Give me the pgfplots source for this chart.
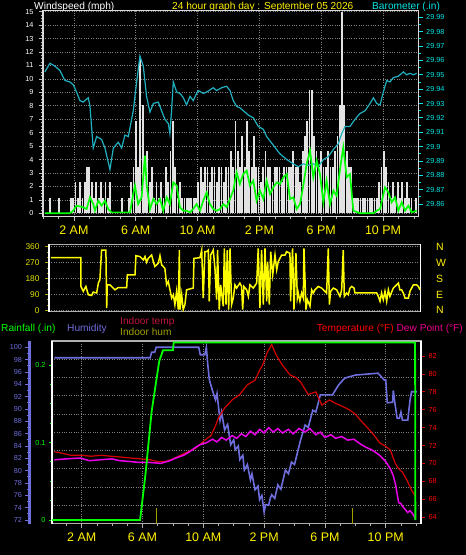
\documentclass[border=0pt]{standalone}
\usepackage{pgfplots}
\pgfplotsset{compat=1.18}
\usepackage{fontspec}
\setmainfont{Liberation Sans}
\definecolor{baro}{RGB}{32,176,192}
\definecolor{barolab}{RGB}{0,230,230}
\definecolor{lime}{RGB}{0,255,0}
\definecolor{gust}{RGB}{226,226,226}
\definecolor{yel}{RGB}{255,255,0}
\definecolor{yellab}{RGB}{225,225,0}
\definecolor{hum}{RGB}{110,110,220}
\definecolor{temp}{RGB}{215,0,0}
\definecolor{dew}{RGB}{235,0,235}
\definecolor{intemp}{RGB}{190,20,60}
\definecolor{inhum}{RGB}{160,160,0}
\definecolor{gridc}{RGB}{130,130,130}
\definecolor{framec}{RGB}{175,175,175}
\newcommand\hdr{\fontsize{10.2}{12}\selectfont}
\newcommand\tkl{\fontsize{7.3}{8}\selectfont}
\newcommand\xl{\fontsize{12.5}{14}\selectfont}
\pgfplotsset{
  base/.style={scale only axis, anchor=north west, /pgf/number format/assume math mode=true,
    tick align=outside, major tick length=4bp, minor tick length=2bp, clip=true},
  toppanel/.style={base, at={(43bp,-10.7bp)}, width=375.7bp, height=206bp, xmin=0, xmax=24.31},
  botpanel/.style={base, at={(52bp,-341bp)}, width=369bp, height=182.5bp, xmin=0.046, xmax=24.32},
}
\begin{document}
\begin{tikzpicture}
\path[use as bounding box] (0,0) rectangle (466bp,-555bp);
\fill[black] (0,0) rectangle (466bp,-555bp);

% ---------- headers ----------
\node[anchor=base west, inner sep=0, font=\hdr, white] at (34bp,-9.5bp) {Windspeed (mph)};
\node[anchor=base west, inner sep=0, font=\hdr, yellow] at (172bp,-9.5bp) {24 hour graph day : September 05 2026};
\node[anchor=base west, inner sep=0, font=\hdr, barolab] at (372bp,-9.5bp) {Barometer (.in)};
\node[anchor=base west, inner sep=0, font=\hdr, lime] at (1bp,-331.5bp) {Rainfall (.in)};
\node[anchor=base west, inner sep=0, font=\hdr, hum] at (67bp,-331.5bp) {Humidity};
\node[anchor=base west, inner sep=0, font=\hdr, intemp] at (120bp,-324bp) {Indoor temp};
\node[anchor=base west, inner sep=0, font=\hdr, inhum] at (120bp,-335.7bp) {Indoor hum};
\node[anchor=base east, inner sep=0, font=\hdr] at (463bp,-331.5bp) {\color{red}Temperature (°F) \color{magenta}Dew Point (°F)};

% ---------- top panel: wind gust ----------
\begin{axis}[toppanel, ymin=-0.25, ymax=15.07,
  axis line style={draw=white!85!black, line width=1.2bp},
  xtick={2,6,10,14,18,22}, xticklabels={2 AM,6 AM,10 AM,2 PM,6 PM,10 PM},
  minor xtick={0,1,...,24},
  ytick={0,1,...,15}, minor y tick num=3,
  xtick pos=bottom, ytick pos=left,
  every tick/.style={white!75!black, line width=0.6bp},
  xticklabel style={yellow, font=\xl, yshift=-2bp},
  yticklabel style={white, font=\tkl, xshift=-2bp},
  xmajorgrids, ymajorgrids, major grid style={gridc, dotted, line width=0.7bp}]
\addplot[ycomb, gust, line width=1.75bp] coordinates {
(0,0)(0.15,0)(0.3,0)(0.45,1.15)(0.6,0)(0.75,0)(0.9,0)(1.05,1.15)(1.2,0)(1.35,0)(1.5,0)(1.65,0)(1.8,1.15)(1.95,1.15)(2.1,2.3)(2.25,1.15)(2.4,2.3)(2.55,1.15)(2.7,2.3)(2.85,3.45)(3,3.45)(3.15,2.3)(3.3,1.15)(3.45,2.3)(3.6,1.15)(3.75,2.3)(3.9,1.15)(4.05,2.3)(4.2,1.15)(4.35,2.3)(4.5,0)(4.65,0)(4.8,0)(4.95,0)(5.1,1.15)(5.25,0)(5.4,0)(5.55,1.15)(5.7,2.3)(5.85,3.45)(6,6.9)(6.15,3.45)(6.3,11.5)(6.45,8.05)(6.6,3.45)(6.75,4.6)(6.9,2.3)(7.05,3.45)(7.2,1.15)(7.35,2.3)(7.5,1.15)(7.65,2.3)(7.8,1.15)(7.95,3.45)(8.1,2.3)(8.25,4.6)(8.4,6.9)(8.55,3.45)(8.7,1.15)(8.85,2.3)(9,1.15)(9.15,1.15)(9.3,1.15)(9.45,1.15)(9.6,1.15)(9.75,1.15)(9.9,1.15)(10.05,2.3)(10.2,3.45)(10.35,2.3)(10.5,3.45)(10.65,3.45)(10.8,2.3)(10.95,3.45)(11.1,3.45)(11.25,2.3)(11.4,3.45)(11.55,3.45)(11.7,2.3)(11.85,3.45)(12,3.45)(12.15,4.6)(12.3,3.45)(12.45,6.9)(12.6,4.6)(12.75,3.45)(12.9,5.75)(13.05,3.45)(13.2,6.9)(13.35,4.6)(13.5,3.45)(13.65,5.75)(13.8,3.45)(13.95,3.45)(14.1,2.3)(14.25,3.45)(14.4,4.6)(14.55,3.45)(14.7,3.45)(14.85,2.3)(15,3.45)(15.15,3.45)(15.3,3.45)(15.45,2.3)(15.6,3.45)(15.75,3.45)(15.9,3.45)(16.05,3.45)(16.2,4.6)(16.35,3.45)(16.5,3.45)(16.65,2.3)(16.8,4.6)(16.95,5.75)(17.1,6.9)(17.25,9.2)(17.4,9.2)(17.55,5.75)(17.7,4.6)(17.85,3.45)(18,4.6)(18.15,3.45)(18.3,3.45)(18.45,4.6)(18.6,3.45)(18.75,3.45)(18.9,4.6)(19.05,5.75)(19.2,8.05)(19.35,14.95)(19.5,8.05)(19.65,4.6)(19.8,3.45)(19.95,3.45)(20.1,1.15)(20.25,1.15)(20.4,1.15)(20.55,1.15)(20.7,1.15)(20.85,1.15)(21,1.15)(21.15,1.15)(21.3,1.15)(21.45,1.15)(21.6,1.15)(21.75,2.3)(21.9,3.45)(22.05,4.6)(22.2,3.45)(22.35,2.3)(22.5,1.15)(22.65,2.3)(22.8,1.15)(22.95,2.3)(23.1,1.15)(23.25,2.3)(23.4,1.15)(23.55,2.3)(23.7,1.15)(23.85,1.15)(24,0)(24.15,1.15)};
\end{axis}

% ---------- top panel: barometer ----------
\begin{axis}[toppanel, ymin=29.8512, ymax=29.9946,
  hide x axis, axis line style={draw=none},
  ytick={29.86,29.87,29.88,29.89,29.90,29.91,29.92,29.93,29.94,29.95,29.96,29.97,29.98,29.99},
  minor y tick num=1, ytick pos=right, yticklabel pos=right,
  /pgf/number format/fixed, /pgf/number format/precision=2,
  every tick/.style={barolab, line width=0.8bp},
  yticklabel style={barolab, font=\tkl}]
\addplot[baro, line width=1.2bp] coordinates {
(0.12,29.952)(0.45,29.958)(0.77,29.956)(1.09,29.953)(1.42,29.946)(1.74,29.945)(1.96,29.943)(2.17,29.938)(2.39,29.932)(2.60,29.931)(2.93,29.934)(3.04,29.928)(3.25,29.899)(3.47,29.907)(3.79,29.905)(4.01,29.899)(4.33,29.884)(4.55,29.899)(4.87,29.903)(5.09,29.899)(5.30,29.908)(5.52,29.907)(5.84,29.925)(6.06,29.945)(6.27,29.963)(6.49,29.956)(6.70,29.935)(6.92,29.924)(7.14,29.930)(7.46,29.931)(7.67,29.925)(7.89,29.919)(8.11,29.916)(8.21,29.909)(8.32,29.925)(8.43,29.945)(8.65,29.938)(8.86,29.937)(9.08,29.934)(9.29,29.929)(9.51,29.935)(9.72,29.932)(9.94,29.937)(10.05,29.939)(10.37,29.937)(10.59,29.938)(11.02,29.941)(11.23,29.939)(11.56,29.941)(11.88,29.942)(12.10,29.939)(12.31,29.932)(12.53,29.928)(12.74,29.927)(12.96,29.925)(13.28,29.922)(13.61,29.920)(13.93,29.914)(14.26,29.912)(14.47,29.907)(14.90,29.901)(15.33,29.895)(15.77,29.891)(16.20,29.888)(16.52,29.886)(16.84,29.888)(17.17,29.887)(17.49,29.888)(17.82,29.886)(18.14,29.891)(18.46,29.893)(18.79,29.898)(19.11,29.902)(19.33,29.909)(19.54,29.914)(19.86,29.914)(20.19,29.919)(20.51,29.923)(20.84,29.925)(21.16,29.930)(21.38,29.934)(21.59,29.930)(21.81,29.929)(22.02,29.938)(22.24,29.946)(22.45,29.945)(22.67,29.948)(22.99,29.949)(23.32,29.952)(23.53,29.950)(23.75,29.951)(23.96,29.950)(24.18,29.951)};
\end{axis}

% ---------- top panel: average wind ----------
\begin{axis}[toppanel, ymin=-0.25, ymax=15.07, hide axis]
\addplot[lime, line width=1.7bp] coordinates {
(0.12,0)(1.74,0)(1.96,0.2)(2.17,0.57)(2.60,0.45)(2.82,0.32)(3.04,1.19)(3.25,0.69)(3.36,0.2)(3.58,0.94)(3.79,0.57)(4.01,0.94)(4.22,0.32)(4.44,0.07)(5.63,0.07)(5.84,1.44)(5.95,2.06)(6.16,0.69)(6.38,1.19)(6.60,4.29)(6.70,2.18)(6.92,0.32)(7.14,1.07)(7.35,0.69)(7.57,1.07)(7.78,0.2)(8.00,1.19)(8.21,0.69)(8.43,2.30)(8.65,2.06)(8.86,0.45)(9.08,0.2)(9.29,0.2)(9.51,0.07)(9.72,0.32)(9.94,0.69)(10.16,0.2)(10.37,0.94)(10.59,1.56)(10.80,0.69)(11.02,0.32)(11.23,0.2)(11.45,0.32)(11.67,0.69)(11.88,0.45)(12.10,1.07)(12.31,1.69)(12.53,3.05)(12.74,2.18)(12.96,2.92)(13.18,3.17)(13.39,2.06)(13.61,2.43)(13.82,0.94)(14.04,1.69)(14.26,1.07)(14.47,2.43)(14.69,1.44)(14.90,1.93)(15.12,2.30)(15.33,2.18)(15.55,2.68)(15.77,2.92)(15.98,1.07)(16.20,1.19)(16.41,0.32)(16.63,0.69)(16.84,2.06)(17.06,3.67)(17.28,4.66)(17.49,2.68)(17.71,3.92)(17.92,2.92)(18.14,0.82)(18.35,2.43)(18.57,0.69)(18.79,1.69)(19.00,1.31)(19.22,3.30)(19.43,4.91)(19.65,2.68)(19.86,2.92)(20.08,0.2)(20.51,0)(21.38,0)(21.59,0.2)(21.81,0.32)(22.13,1.93)(22.35,1.56)(22.56,0.82)(22.78,1.19)(22.99,0.2)(23.21,0.82)(23.43,0.2)(23.64,0.57)(23.86,0.07)(24.18,0.2)};
\end{axis}

% ---------- middle panel: wind direction ----------
\begin{axis}[base, at={(49bp,-244.3bp)}, width=371.7bp, height=67.4bp,
  xmin=-0.065, xmax=24.07, ymin=-7.9, ymax=373.6,
  separate axis lines,
  x axis line style={draw=framec, line width=1.5bp},
  y axis line style={draw=white, line width=1.5bp},
  xtick=\empty, ytick={0,90,180,270,360}, minor y tick num=2, ytick pos=left,
  every tick/.style={inhum, line width=0.8bp},
  yticklabel style={yellab, font=\fontsize{8.4}{9}\selectfont, xshift=-2bp},
  ymajorgrids, major grid style={gridc, dotted, line width=0.7bp}]
\addplot[yel, line width=1.5bp] coordinates {
(0.06,298)(2.01,298)(2.01,135)(2.16,107)(2.33,135)(2.49,88)(2.70,84)(2.81,103)(3.03,98)(3.14,154)(3.24,173)(3.35,341)(3.63,341)(3.68,13)(3.72,144)(3.89,144)(4.22,116)(4.43,129)(4.98,129)(5.02,201)(5.52,201)(5.58,309)(5.84,304)(6.06,285)(6.17,304)(6.27,272)(6.38,294)(6.60,313)(6.71,276)(6.81,248)(7.03,266)(7.14,309)(7.25,257)(7.46,238)(7.57,144)(7.68,163)(7.79,116)(7.90,69)(8.01,88)(8.11,32)(8.22,107)(8.33,4)(8.40,341)(8.44,4)(8.55,88)(8.65,4)(8.76,32)(8.87,116)(9.30,126)(9.35,294)(9.74,298)(9.85,341)(9.95,69)(10.06,332)(10.17,332)(10.28,341)(10.34,51)(10.43,313)(10.60,341)(10.71,238)(10.82,60)(10.88,341)(10.99,4)(11.08,144)(11.25,23)(11.32,351)(11.43,32)(11.51,341)(11.60,4)(11.69,351)(11.79,32)(11.90,69)(12.01,144)(12.12,126)(12.33,154)(12.44,135)(12.51,4)(12.59,135)(12.77,116)(12.88,79)(12.98,144)(13.20,126)(13.42,154)(13.52,351)(13.63,13)(13.74,341)(13.85,32)(13.96,351)(14.07,51)(14.13,276)(14.24,32)(14.33,332)(14.46,201)(14.61,313)(14.72,229)(14.82,276)(15.04,313)(15.26,313)(15.36,332)(15.58,323)(15.62,51)(15.75,351)(15.84,4)(15.97,323)(16.06,69)(16.12,98)(16.23,51)(16.34,98)(16.45,69)(16.49,351)(16.62,4)(16.71,60)(16.88,23)(16.99,116)(17.10,98)(17.20,116)(17.42,135)(17.64,126)(17.85,107)(17.96,98)(18.07,351)(18.14,32)(18.22,107)(18.40,126)(18.61,116)(18.83,79)(18.94,116)(19.04,341)(19.11,79)(19.26,98)(19.37,88)(19.48,126)(19.59,135)(19.74,126)(19.80,98)(21.21,98)(21.32,79)(21.43,51)(21.53,98)(21.64,60)(21.75,107)(21.86,51)(21.97,116)(22.07,79)(22.29,126)(22.51,144)(22.62,154)(22.72,116)(22.83,116)(22.94,98)(23.05,69)(23.27,69)(23.37,107)(23.59,144)(23.81,144)(23.92,135)(24.02,116)};
\end{axis}
\begin{axis}[base, at={(49bp,-244.3bp)}, width=371.7bp, height=67.4bp,
  xmin=-0.065, xmax=24.07, ymin=-7.9, ymax=373.6,
  hide x axis, axis line style={draw=none},
  ytick={0,90,180,270,360}, yticklabels={N,E,S,W,N},
  ytick pos=right, yticklabel pos=right, major tick length=0pt,
  yticklabel style={yellow, font=\fontsize{10.5}{12}\selectfont, xshift=12bp}]
\end{axis}

% ---------- bottom panel: grid and frame ----------
\begin{axis}[botpanel, ymin=0, ymax=10,
  axis line style={draw=framec, line width=1.5bp},
  xtick={2,6,10,14,18,22}, xticklabels={}, ytick={1,...,9}, yticklabels={},
  major tick length=0pt,
  xmajorgrids, ymajorgrids, major grid style={gridc, dotted, line width=0.7bp}]
\end{axis}

% ---------- bottom panel: humidity ----------
\begin{axis}[botpanel, ymin=71.44, ymax=101.02,
  axis line style={draw=none}, ytick=\empty,
  xtick={2,6,10,14,18,22}, xticklabels={2 AM,6 AM,10 AM,2 PM,6 PM,10 PM},
  minor xtick={0,1,...,24}, xtick pos=bottom,
  every tick/.style={framec, line width=0.6bp},
  xticklabel style={yellow, font=\xl, yshift=-2bp}]
\addplot[hum, line width=1.6bp] coordinates {
(0.2,98.3)(6.5,98.3)(6.6,99.2)(6.8,99.2)(6.9,100)(9.7,100)(9.8,98.8)(10.1,98.8)(10.2,100)(10.3,97)(10.4,94.7)(10.6,93)(10.8,91.5)(10.9,92.5)(11.1,88.2)(11.2,89.5)(11.4,86.6)(11.6,87.5)(11.8,84.2)(12.0,85)(12.1,83.4)(12.3,84)(12.4,81.8)(12.6,82.5)(12.7,80.1)(12.9,81)(13.1,78.5)(13.2,79.5)(13.4,76.9)(13.6,77.5)(13.7,75.3)(13.85,76)(14.0,73.3)(14.1,74.5)(14.3,74.4)(14.4,75.5)(14.5,76.1)(14.7,75.5)(14.9,77.7)(15.1,77)(15.4,80.1)(15.6,79.5)(15.8,81.4)(16.0,81)(16.4,85)(16.7,87.4)(16.9,87)(17.2,89.8)(17.4,89.5)(17.7,92.3)(18.5,92.3)(18.9,93.9)(19.3,95)(20.0,95.5)(21.5,95.8)(21.9,94.7)(22.0,94.7)(22.1,91.0)(22.45,91.1)(22.5,93)(22.6,91)(22.75,88.5)(22.9,88.5)(23.0,89.5)(23.1,88.2)(23.45,88.2)(23.6,91.5)(23.7,92.8)(24.05,92.8)};
\addplot[inhum, line width=1bp] coordinates {(6.93,71.4) (6.93,74)};
\addplot[inhum, line width=1bp] coordinates {(19.83,71.4) (19.83,74)};
\end{axis}

% ---------- bottom panel: temperature and dew point ----------
\begin{axis}[botpanel, ymin=63.27, ymax=83.69,
  hide x axis, axis line style={draw=temp, densely dotted, line width=1.2bp},
  ytick={64,66,...,82}, ytick pos=right, yticklabel pos=right,
  every tick/.style={temp, line width=0.8bp},
  yticklabel style={red, font=\tkl}]
\addplot[temp, line width=1.2bp] coordinates {
(0.2,71.3)(0.8,71.1)(1.3,70.9)(2,70.9)(2.6,70.8)(3.3,70.9)(3.9,70.8)(4.6,70.7)(5.2,70.6)(5.9,70.5)(6.5,70.4)(7.0,70.2)(7.5,70.2)(8.0,70.5)(8.5,70.9)(9.0,71.3)(9.5,71.7)(10.1,72.6)(10.5,73.1)(10.8,74.2)(11.0,75.1)(11.4,76.2)(11.9,77.1)(12.4,77.7)(12.9,78.8)(13.4,79.3)(13.7,80.4)(13.9,81.0)(14.2,82.4)(14.5,83.3)(14.8,82.1)(15.2,81.0)(15.7,79.9)(16.1,79.6)(16.4,79.1)(16.9,77.7)(17.4,78.0)(17.8,76.5)(18.3,77.1)(18.7,76.7)(19.0,76.5)(19.6,76.0)(20.0,75.5)(20.3,74.9)(20.9,73.8)(21.3,73.0)(21.6,72.3)(22.0,71.9)(22.3,71.5)(22.6,70.1)(22.8,69.5)(23.1,69.0)(23.4,68.1)(23.7,67.0)(23.95,66.3)};
\addplot[dew, line width=1.5bp] coordinates {
(0.2,70.4)(1,70.5)(1.9,70.6)(2.5,70.3)(3.2,70.4)(4,70.5)(4.5,70.3)(5.2,70.2)(5.8,70.1)(6.5,70.1)(7.2,70.0)(7.8,70.3)(8.2,70.6)(8.7,70.9)(9.1,71.3)(9.5,71.8)(9.8,72.1)(10.2,72.3)(10.6,72.7)(10.9,72.4)(11.2,72.9)(11.5,72.6)(11.9,73.1)(12.2,72.8)(12.5,73.3)(12.8,73.0)(13.1,73.6)(13.4,73.2)(13.7,73.8)(14.0,73.4)(14.3,74.0)(14.6,73.5)(14.9,73.9)(15.2,73.4)(15.6,73.8)(15.9,73.3)(16.3,73.9)(16.7,73.5)(17.0,73.9)(17.4,73.2)(17.7,73.5)(18.0,72.9)(18.4,73.2)(18.7,72.8)(19.1,73.0)(19.5,72.6)(19.9,72.7)(20.3,72.2)(20.7,71.8)(21.1,71.5)(21.6,70.9)(22.0,70.2)(22.3,69.4)(22.5,68.6)(22.65,67.6)(22.75,66.6)(22.85,65.6)(23.0,65.5)(23.1,65.2)(23.3,64.8)(23.45,64.5)(23.6,64.7)(23.75,64.4)(23.9,64.0)(23.95,63.7)};
\end{axis}

% ---------- bottom panel: rainfall ----------
\begin{axis}[botpanel, ymin=-0.0045, ymax=0.231,
  hide x axis, axis line style={draw=white, line width=1.5bp},
  ytick={0,0.1,0.2}, yticklabels={0,0.1,0.2}, minor y tick num=3, ytick pos=left,
  every tick/.style={lime, line width=0.8bp}, major tick length=3bp, minor tick length=2bp,
  yticklabel style={lime, font=\tkl}]
\addplot[lime, line width=1.8bp] coordinates {
(0.05,0)(5.84,0)(6.2,0.06)(6.6,0.14)(7.1,0.205)(7.35,0.219)(8.0,0.219)(8.05,0.229)(23.93,0.229)(23.95,0)};
\end{axis}

% ---------- humidity scale ----------
\begin{axis}[base, at={(29.5bp,-341bp)}, width=0.5bp, height=182.5bp,
  xmin=0, xmax=1, ymin=71.44, ymax=101.02,
  hide x axis, axis line style={draw=hum, line width=2bp},
  ytick={72,74,...,100}, minor y tick num=1, ytick pos=left,
  every tick/.style={hum, line width=0.8bp},
  yticklabel style={hum, font=\tkl}]
\end{axis}
\end{tikzpicture}
\end{document}
